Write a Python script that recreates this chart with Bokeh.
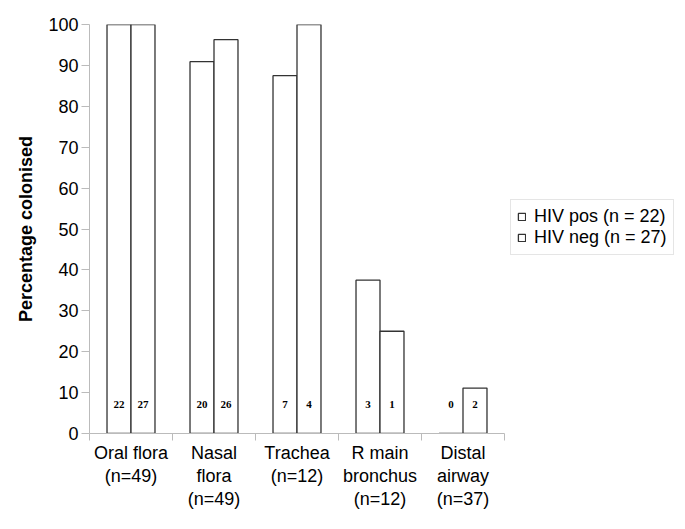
from bokeh.plotting import figure
from bokeh.models import FixedTicker, Range1d, Legend, LegendItem, ColumnDataSource
from bokeh.core.properties import value
from bokeh.embed import file_html
from bokeh.resources import INLINE

categories = ["Oral flora\n(n=49)", "Nasal\nflora\n(n=49)", "Trachea\n(n=12)", "R main\nbronchus\n(n=12)", "Distal\nairway\n(n=37)"]
hiv_pos = [100, 90.9, 87.5, 37.5, 0]
hiv_neg = [100, 96.3, 100, 25, 11.1]
pos_counts = ["22", "20", "7", "3", "0"]
neg_counts = ["27", "26", "4", "1", "2"]
series_names = ["HIV pos (n = 22)", "HIV neg (n = 27)"]
y_ticks = list(range(0, 101, 10))

centers = [2 * i + 1 for i in range(len(categories))]
bounds = [2 * i for i in range(len(categories) + 1)]
bw = 0.578

W, H = 677, 513
LEFT, TOP, BOTTOM = 89, 24, 80
frame_w = W - LEFT
cat_w = 415  # pixel width of the category area
x_end = 2 * len(categories) * frame_w / cat_w

p = figure(width=W, height=H, output_backend="svg", toolbar_location=None,
           x_range=Range1d(0, x_end), y_range=Range1d(0, 100),
           min_border_left=LEFT, min_border_top=TOP, min_border_bottom=BOTTOM, min_border_right=0)
p.outline_line_color = None
p.grid.visible = False
p.background_fill_color = "white"
p.border_fill_color = "white"

src_pos = ColumnDataSource(dict(x=[c - bw / 2 for c in centers], top=hiv_pos, lab=pos_counts))
src_neg = ColumnDataSource(dict(x=[c + bw / 2 for c in centers], top=hiv_neg, lab=neg_counts))

r1 = p.vbar(x="x", top="top", width=bw, bottom=0, source=src_pos,
            fill_color="white", line_color="#333333", line_width=1.3)
r2 = p.vbar(x="x", top="top", width=bw, bottom=0, source=src_neg,
            fill_color="white", line_color="#333333", line_width=1.3)

for src in (src_pos, src_neg):
    p.text(x="x", y=7, text="lab", source=src, text_align="center", text_baseline="middle",
           text_font=value("Liberation Serif"), text_font_style="bold", text_font_size="11px",
           text_color="black")

# x axis
xa = p.xaxis[0]
xa.bounds = (0, 2 * len(categories))
xa.ticker = FixedTicker(ticks=centers, minor_ticks=bounds)
xa.major_label_overrides = {c: lab for c, lab in zip(centers, categories)}
xa.major_tick_out = 0
xa.major_tick_in = 0
xa.minor_tick_out = 7
xa.minor_tick_in = 0
xa.minor_tick_line_color = "#bbbbbb"
xa.axis_line_color = "#bbbbbb"
xa.major_label_text_font = "Liberation Sans"
xa.major_label_text_font_size = "18px"
xa.major_label_text_color = "black"
xa.major_label_standoff = 2
xa.major_label_text_line_height = 1.15

# y axis
ya = p.yaxis[0]
ya.ticker = FixedTicker(ticks=y_ticks, minor_ticks=[])
ya.major_tick_out = 8
ya.major_tick_in = 0
ya.major_tick_line_color = "#bbbbbb"
ya.axis_line_color = "#bbbbbb"
ya.major_label_text_font = "Liberation Sans"
ya.major_label_text_font_size = "18px"
ya.major_label_text_color = "black"
ya.major_label_standoff = 3
ya.axis_label = "Percentage colonised"
ya.axis_label_text_font = "Liberation Sans"
ya.axis_label_text_font_style = "bold"
ya.axis_label_text_font_size = "18px"
ya.axis_label_text_color = "black"
ya.axis_label_standoff = 9

legend = Legend(items=[LegendItem(label=series_names[0], renderers=[r1]),
                       LegendItem(label=series_names[1], renderers=[r2])],
                location=(421, 178), orientation="vertical")
legend.border_line_color = "#cccccc"
legend.border_line_width = 1
legend.background_fill_alpha = 1
legend.label_text_font = "Liberation Sans"
legend.label_text_font_size = "18px"
legend.label_text_color = "black"
legend.glyph_width = 9
legend.glyph_height = 9
legend.label_standoff = 8
legend.padding = 6
legend.spacing = 0
legend.label_height = 18
legend.margin = 0
p.add_layout(legend, "center")

open("out.html", "w").write(file_html(p, INLINE))
